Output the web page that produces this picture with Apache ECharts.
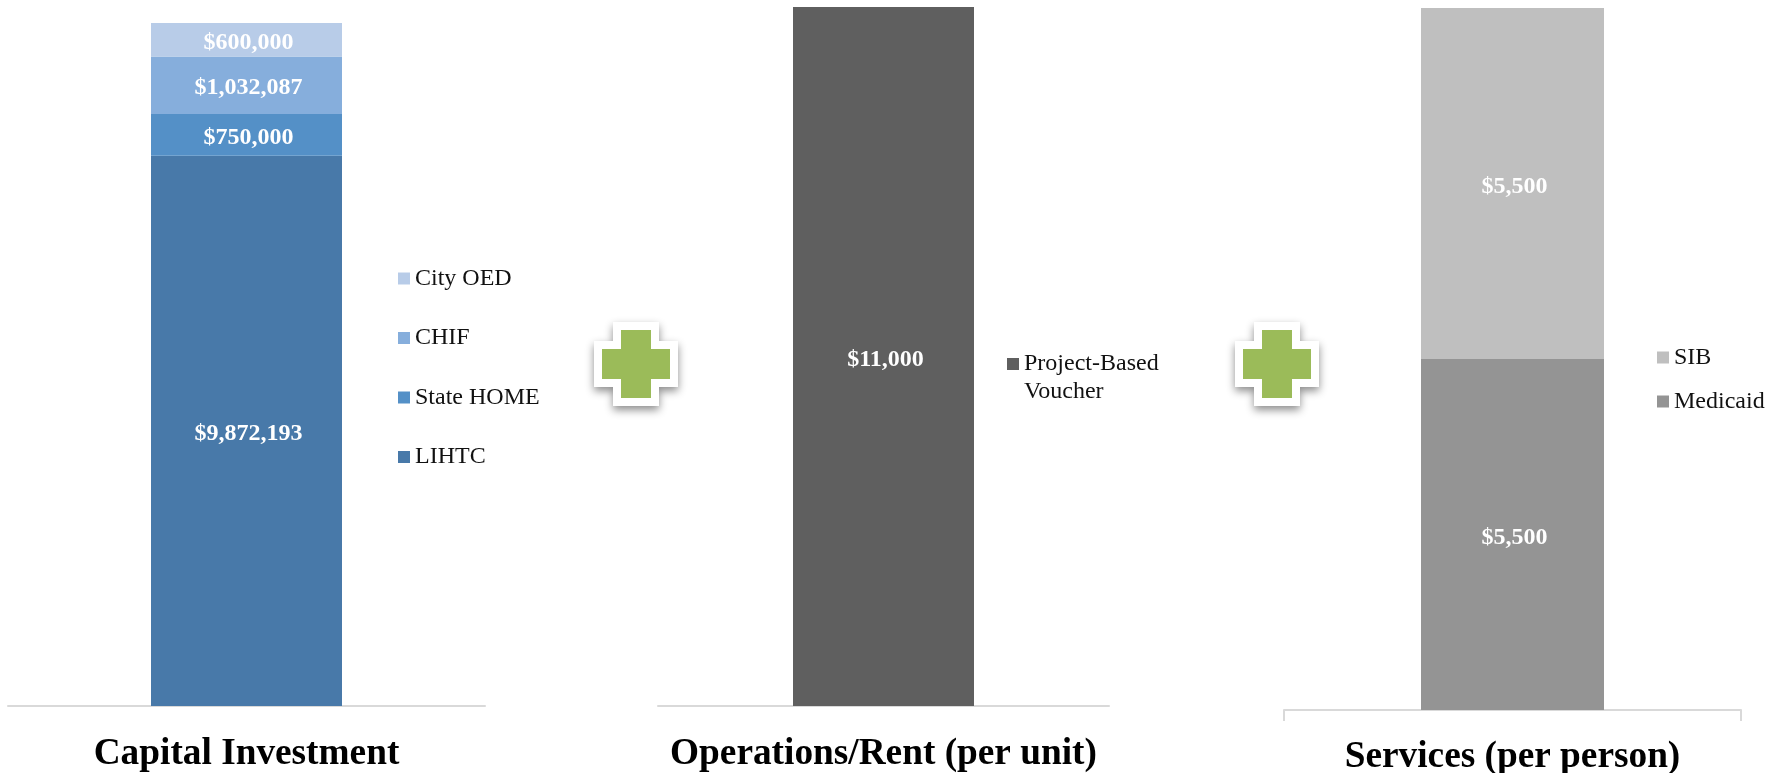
<!DOCTYPE html>
<html>
<head>
<meta charset="utf-8">
<title>Capital, operations and services funding</title>
<style>
  html, body { margin: 0; padding: 0; background: #fff; }
  #chart { width: 1781px; height: 773px; }
</style>
<script src="https://cdn.jsdelivr.net/npm/echarts@6/dist/echarts.min.js"></script>
</head>
<body>
<div id="chart"></div>
<script>
const panelTitles = ["Capital Investment", "Operations/Rent (per unit)", "Services (per person)"];

// bottom of the stack first
const capitalNames = ["LIHTC", "State HOME", "CHIF", "City OED"];
const capitalValues = [9872193, 750000, 1032087, 600000];
const capitalColors = ["#4879a9", "#5490c7", "#86aedc", "#b8cce8"];

const rentNames = ["Project-Based Voucher"];
const rentValues = [11000];
const rentColors = ["#5f5f5f"];

const servicesNames = ["Medicaid", "SIB"];
const servicesValues = [5500, 5500];
const servicesColors = ["#949494", "#bfbfbf"];

const SERIF = "'Liberation Serif', 'Times New Roman', serif";

function money(v) {
  return "$" + v.toLocaleString("en-US");
}

function sum(list) {
  return list.reduce((a, b) => a + b, 0);
}

function makeSeries(names, values, colors, index) {
  return names.map((name, i) => ({
    name: name,
    type: "bar",
    stack: "panel" + index,
    xAxisIndex: index,
    yAxisIndex: index,
    barWidth: [191, 181, 183][index],
    data: [values[i]],
    itemStyle: { color: colors[i] },
    label: {
      show: true,
      position: "inside",
      offset: [2, 3],
      color: "#fff",
      fontFamily: SERIF,
      fontWeight: "bold",
      fontSize: 24,
      formatter: (p) => money(p.value),
    },
    emphasis: { disabled: true },
  }));
}

function makeLegend(names, left, top, gap) {
  return {
    orient: "vertical",
    left: left,
    top: top,
    padding: 0,
    itemGap: gap,
    itemWidth: 12,
    itemHeight: 12,
    icon: "rect",
    selectedMode: false,
    data: names.slice().reverse(),
    textStyle: {
      color: "#111",
      fontFamily: SERIF,
      fontSize: 24,
      lineHeight: 27,
    },
  };
}

// two line entry, the square sits beside the first line
function makeRentLegend(names, left, top) {
  const legend = makeLegend(names, left, top, 0);
  legend.itemHeight = 40;
  legend.icon = "path://M0 0H12V12H0Z M0 40H12V40H0Z";
  legend.formatter = (name) => name.replace("Project-Based ", "Project-Based\n");
  legend.textStyle.lineHeight = 28;
  return legend;
}

function makeXAxis(index, title, margin, ticks) {
  return {
    type: "category",
    gridIndex: index,
    data: [title],
    axisLine: { show: true, lineStyle: { color: "#d9d9d9", width: 2 } },
    axisTick: { show: ticks, length: 11, lineStyle: { color: "#d9d9d9", width: 2 } },
    axisLabel: {
      interval: 0,
      margin: margin,
      color: "#000",
      fontFamily: SERIF,
      fontWeight: "bold",
      fontSize: 37.3,
    },
  };
}

function plus(cx, cy, arm, half, style) {
  return {
    type: "polygon",
    silent: true,
    shape: {
      points: [
        [cx - half, cy - arm], [cx + half, cy - arm], [cx + half, cy - half],
        [cx + arm, cy - half], [cx + arm, cy + half], [cx + half, cy + half],
        [cx + half, cy + arm], [cx - half, cy + arm], [cx - half, cy + half],
        [cx - arm, cy + half], [cx - arm, cy - half], [cx - half, cy - half],
      ],
    },
    style: style,
  };
}

function plusIcon(cx, cy) {
  return [
    plus(cx, cy, 42, 23, {
      fill: "#fff",
      shadowColor: "rgba(0,0,0,0.45)",
      shadowBlur: 8,
      shadowOffsetY: 4,
    }),
    plus(cx, cy, 34, 15, { fill: "#9bbb59" }),
  ];
}

const chart = echarts.init(document.getElementById("chart"), null, { renderer: "canvas" });

const option = {
  animation: false,
  backgroundColor: "#fff",
  tooltip: { show: false },
  grid: [
    { left: 8, width: 477, top: 23, height: 683, outerBoundsMode: "none" },
    { left: 658, width: 451, top: 7, height: 699, outerBoundsMode: "none" },
    { left: 1284, width: 457, top: 8, height: 702, outerBoundsMode: "none" },
  ],
  xAxis: [
    makeXAxis(0, panelTitles[0], 30, false),
    makeXAxis(1, panelTitles[1], 30, false),
    makeXAxis(2, panelTitles[2], 29, true),
  ],
  yAxis: [
    { type: "value", gridIndex: 0, show: false, min: 0, max: sum(capitalValues) },
    { type: "value", gridIndex: 1, show: false, min: 0, max: sum(rentValues) },
    { type: "value", gridIndex: 2, show: false, min: 0, max: sum(servicesValues) },
  ],
  legend: [
    makeLegend(capitalNames, 398, 265, 32.5),
    makeRentLegend(rentNames, 1007, 350),
    makeLegend(servicesNames, 1657, 344, 17),
  ],
  series: [
    ...makeSeries(capitalNames, capitalValues, capitalColors, 0),
    ...makeSeries(rentNames, rentValues, rentColors, 1),
    ...makeSeries(servicesNames, servicesValues, servicesColors, 2),
  ],
  graphic: [...plusIcon(636, 364), ...plusIcon(1277, 364)],
};

chart.setOption(option);
</script>
</body>
</html>
